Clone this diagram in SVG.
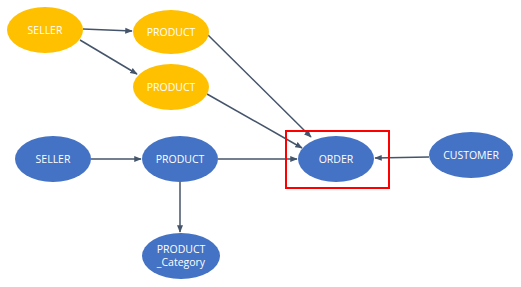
<svg xmlns="http://www.w3.org/2000/svg" width="521" height="287" viewBox="0 0 521 287">
<defs>
<marker id="ah" viewBox="0 0 10 10" refX="9" refY="5" markerWidth="5" markerHeight="5" orient="auto"><path d="M0,1 L10,5 L0,9 z" fill="#44546A"/></marker>
<style>
.y{fill:#FFC000}
.b{fill:#4472C4}
.t{fill:#fff;font-family:"Open Sans","Noto Sans",sans-serif;font-size:10.5px;text-anchor:middle}
.c line{stroke:#44546A;stroke-width:1.5;marker-end:url(#ah)}
</style>
</defs>
<rect width="521" height="287" fill="#fff"/>
<g class="c">
<line x1="83" y1="29" x2="132" y2="31"/>
<line x1="80" y1="40" x2="137" y2="74"/>
<line x1="208" y1="35" x2="311" y2="137"/>
<line x1="207" y1="94" x2="302" y2="148"/>
<line x1="218" y1="159" x2="297" y2="159"/>
<line x1="91" y1="159" x2="141" y2="159"/>
<line x1="180" y1="182" x2="180" y2="232"/>
<line x1="429" y1="157" x2="375" y2="158"/>
</g>
<g id="seller1"><ellipse class="y" cx="45" cy="30" rx="38" ry="23"/><text class="t" x="45" y="34">SELLER</text></g>
<g id="product1"><ellipse class="y" cx="171" cy="32" rx="38" ry="22"/><text class="t" x="171" y="36">PRODUCT</text></g>
<g id="product2"><ellipse class="y" cx="171" cy="87" rx="38" ry="23"/><text class="t" x="171" y="91">PRODUCT</text></g>
<g id="seller2"><ellipse class="b" cx="53" cy="159" rx="38" ry="23"/><text class="t" x="53" y="163">SELLER</text></g>
<g id="product3"><ellipse class="b" cx="180" cy="159" rx="38" ry="23"/><text class="t" x="180" y="163">PRODUCT</text></g>
<g id="category"><ellipse class="b" cx="181" cy="256" rx="39" ry="23"/><text class="t" x="181" y="253">PRODUCT</text><text class="t" x="181" y="266">_Category</text></g>
<g id="order"><ellipse class="b" cx="336" cy="159" rx="38" ry="23"/><text class="t" x="336" y="163">ORDER</text><rect x="286" y="131" width="103" height="57" fill="none" stroke="#FF0000" stroke-width="2"/></g>
<g id="customer"><ellipse class="b" cx="471" cy="155" rx="42" ry="23"/><text class="t" x="471" y="159">CUSTOMER</text></g>
</svg>
